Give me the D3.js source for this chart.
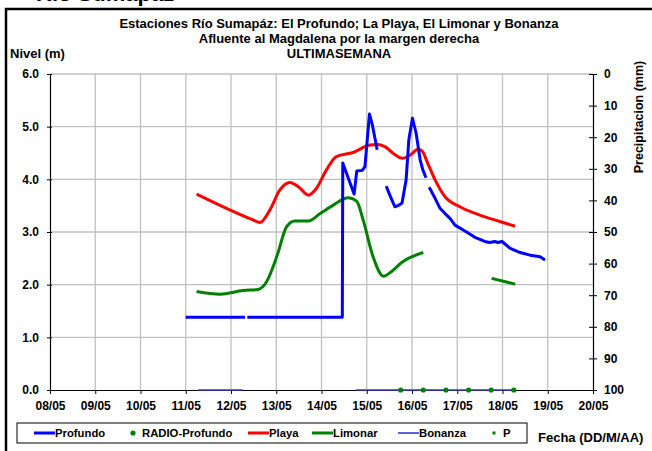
<!DOCTYPE html>
<html lang="es">
<head>
<meta charset="UTF-8">
<title>Río Sumapaz</title>
<script src="https://d3js.org/d3.v7.min.js"></script>
<style>
  body { margin: 0; background: #fff; }
  svg text { font-family: "Liberation Sans", Arial, sans-serif; font-weight: bold; fill: #000; }
</style>
</head>
<body>
<svg id="chart" width="652" height="451"></svg>
<script>
// x values are day of May (decimals = part of the day), y values are level in metres
var dayTicks = [8, 9, 10, 11, 12, 13, 14, 15, 16, 17, 18, 19, 20];
var nivelTicks = [0, 1, 2, 3, 4, 5, 6];
var precipTicks = [0, 10, 20, 30, 40, 50, 60, 70, 80, 90, 100];

// null = gap in the record
var profundo = [
    [11.0, 1.38], [12.31, 1.38], null,
    [12.36, 1.38], [14.46, 1.38], [14.47, 4.31], [14.72, 3.72], [14.78, 4.16], [14.9, 4.17],
    [14.96, 4.24], [15.06, 5.24], [15.12, 5.05], [15.23, 4.56], null,
    [15.43, 3.87], [15.51, 3.7], [15.62, 3.48], [15.69, 3.5], [15.78, 3.55], [15.87, 3.99],
    [15.93, 4.75], [16.01, 5.16], [16.09, 4.88], [16.18, 4.37], [16.24, 4.18], [16.31, 4.03], null,
    [16.38, 3.85], [16.51, 3.64], [16.62, 3.45], [16.73, 3.35], [16.84, 3.26], [16.95, 3.13],
    [17.17, 3.02], [17.39, 2.9], [17.61, 2.82], [17.72, 2.8], [17.83, 2.82], [17.9, 2.8],
    [17.99, 2.82], [18.17, 2.69], [18.39, 2.61], [18.61, 2.56], [18.83, 2.53], [18.94, 2.47]
];

var playa = [
    [11.24, 3.72], [12.46, 3.24], [12.64, 3.18], [12.86, 3.42], [13.08, 3.8], [13.3, 3.94],
    [13.49, 3.86], [13.71, 3.7], [13.89, 3.83], [14.11, 4.18], [14.33, 4.43], [14.7, 4.51],
    [15.07, 4.65], [15.23, 4.66], [15.4, 4.62], [15.62, 4.47], [15.78, 4.4], [15.96, 4.46],
    [16.13, 4.57], [16.22, 4.54], [16.35, 4.3], [16.51, 3.99], [16.73, 3.67], [17.06, 3.48],
    [17.5, 3.32], [17.94, 3.2], [18.28, 3.11]
];

var limonar = [
    [11.24, 1.87], [11.76, 1.82], [12.27, 1.89], [12.6, 1.91], [12.79, 2.06], [13.01, 2.53],
    [13.23, 3.1], [13.41, 3.21], [13.71, 3.21], [13.97, 3.35], [14.26, 3.51], [14.59, 3.65],
    [14.78, 3.58], [14.92, 3.23], [15.14, 2.53], [15.37, 2.16], [15.55, 2.25], [15.77, 2.42],
    [16.25, 2.61], null,
    [17.76, 2.12], [18.28, 2.01]
];

var bonanza = [
    [11.27, 0], [12.26, 0], null,
    [14.76, 0], [18.3, 0]
];

var radioProfundo = [
    [15.75, 0], [16.25, 0], [16.75, 0], [17.25, 0], [17.75, 0], [18.25, 0]
];

var precipitacion = [];   // P: no rain recorded this week

var titleLines = [
    "Estaciones Río Sumapáz: El Profundo; La Playa, El Limonar y Bonanza",
    "Afluente al Magdalena por la margen derecha",
    "ULTIMASEMANA"
];

var svg = d3.select("#chart");

var x = d3.scaleLinear().domain([8, 20]).range([50, 593]);
var y = d3.scaleLinear().domain([0, 6]).range([390, 74]);
var y2 = d3.scaleLinear().domain([0, 100]).range([74, 390]);

// page heading, cut off at the top of the capture
svg.append("text")
    .attr("x", 36).attr("y", 1)
    .style("font-size", "22px")
    .text("Río Sumapaz");

// frame of the chart
svg.append("rect")
    .attr("x", 6).attr("y", 9)
    .attr("width", 700).attr("height", 500)
    .attr("fill", "none")
    .attr("stroke", "#000")
    .attr("stroke-width", 2.5);

// grid
svg.append("g").selectAll("line")
    .data(dayTicks.slice(1, -1))
    .enter().append("line")
    .attr("x1", function (d) { return x(d); })
    .attr("x2", function (d) { return x(d); })
    .attr("y1", y(0)).attr("y2", y(6))
    .attr("stroke", "#c0c0c0").attr("stroke-width", 1.3);

svg.append("g").selectAll("line")
    .data(nivelTicks.slice(1))
    .enter().append("line")
    .attr("x1", x(8)).attr("x2", x(20))
    .attr("y1", function (d) { return y(d); })
    .attr("y2", function (d) { return y(d); })
    .attr("stroke", "#c0c0c0").attr("stroke-width", 1.3);

// axes
var fmtDay = function (d) { return d3.format("02d")(d) + "/05"; };

var gx = svg.append("g")
    .attr("transform", "translate(0," + y(0) + ")")
    .call(d3.axisBottom(x).tickValues(dayTicks).tickFormat(fmtDay).tickSize(4).tickPadding(7));

var gy = svg.append("g")
    .attr("transform", "translate(" + x(8) + ",0)")
    .call(d3.axisLeft(y).tickValues(nivelTicks).tickFormat(d3.format(".1f")).tickSize(3).tickPadding(8));

var gy2 = svg.append("g")
    .attr("transform", "translate(" + x(20) + ",0)")
    .call(d3.axisRight(y2).tickValues(precipTicks).tickSize(4).tickPadding(7));

[gx, gy, gy2].forEach(function (g) {
    g.select(".domain").attr("stroke", "#000").attr("stroke-width", 1.2);
    g.selectAll(".tick line").attr("stroke", "#000");
    g.selectAll(".tick text")
        .style("font-size", "12px")
        .style("font-family", '"Liberation Sans", Arial, sans-serif')
        .style("font-weight", "bold");
});
gy.select(".domain").attr("d", "M0.5," + y(6) + "V" + y(0));
gy2.select(".domain").attr("d", "M0.5," + y2(0) + "V" + y2(100));
gx.select(".domain").attr("d", "M" + x(8) + ",0.5H" + x(20));
// ticks cross the vertical axes
gy.selectAll(".tick line").attr("x2", 2).attr("x1", -3);
gy2.selectAll(".tick line").attr("x1", -4).attr("x2", 4);

// series
var line = d3.line()
    .defined(function (d) { return d !== null; })
    .x(function (d) { return x(d[0]); })
    .y(function (d) { return y(d[1]); });

var smooth = d3.line()
    .defined(function (d) { return d !== null; })
    .curve(d3.curveMonotoneX)
    .x(function (d) { return x(d[0]); })
    .y(function (d) { return y(d[1]); });

svg.append("path").datum(bonanza)
    .attr("d", line).attr("fill", "none")
    .attr("stroke", "#3a3ac8").attr("stroke-width", 1.6);

svg.append("path").datum(limonar)
    .attr("d", smooth).attr("fill", "none")
    .attr("stroke", "#008000").attr("stroke-width", 3).attr("stroke-linejoin", "round");

svg.append("path").datum(playa)
    .attr("d", smooth).attr("fill", "none")
    .attr("stroke", "#ff0000").attr("stroke-width", 3).attr("stroke-linejoin", "round");

svg.append("path").datum(profundo)
    .attr("d", line).attr("fill", "none")
    .attr("stroke", "#0000ff").attr("stroke-width", 3).attr("stroke-linejoin", "round");

svg.append("g").selectAll("circle")
    .data(radioProfundo)
    .enter().append("circle")
    .attr("cx", function (d) { return x(d[0]); })
    .attr("cy", function (d) { return y(d[1]); })
    .attr("r", 2.6)
    .attr("fill", "#008000");

svg.append("g").selectAll("rect")
    .data(precipitacion)
    .enter().append("rect")
    .attr("x", function (d) { return x(d[0]) - 1.5; })
    .attr("y", function (d) { return y2(d[1]) - 1.5; })
    .attr("width", 3).attr("height", 3)
    .attr("fill", "#008000");

// titles
svg.append("g").selectAll("text")
    .data(titleLines)
    .enter().append("text")
    .attr("x", 339)
    .attr("y", function (d, i) { return 27.5 + i * 15; })
    .attr("text-anchor", "middle")
    .style("font-size", "13px")
    .text(function (d) { return d; });

svg.append("text").attr("x", 10).attr("y", 57.5)
    .style("font-size", "13px").text("Nivel (m)");

svg.append("text")
    .attr("transform", "translate(643,117) rotate(-90)")
    .attr("text-anchor", "middle")
    .style("font-size", "12.5px")
    .text("Precipitacion (mm)");

svg.append("text").attr("x", 538).attr("y", 441.5)
    .style("font-size", "13px").text("Fecha (DD/M/AA)");

// legend
var legend = svg.append("g");
legend.append("rect")
    .attr("x", 17).attr("y", 423).attr("width", 510).attr("height", 20)
    .attr("fill", "#fff").attr("stroke", "#000").attr("stroke-width", 1);

var legendItems = [
    { name: "Profundo", kind: "line", color: "#0000ff", w: 3, at: 34 },
    { name: "RADIO-Profundo", kind: "dot", color: "#008000", at: 133 },
    { name: "Playa", kind: "line", color: "#ff0000", w: 3, at: 248 },
    { name: "Limonar", kind: "line", color: "#008000", w: 3, at: 312 },
    { name: "Bonanza", kind: "line", color: "#3a3ac8", w: 1.6, at: 398 },
    { name: "P", kind: "square", color: "#008000", at: 494 }
];

legendItems.forEach(function (it) {
    var ly = 433;
    var tx;
    if (it.kind === "line") {
        legend.append("line")
            .attr("x1", it.at).attr("x2", it.at + 21)
            .attr("y1", ly).attr("y2", ly)
            .attr("stroke", it.color).attr("stroke-width", it.w);
        tx = it.at + 21;
    } else if (it.kind === "dot") {
        legend.append("circle").attr("cx", it.at).attr("cy", ly).attr("r", 2.6).attr("fill", it.color);
        tx = it.at + 9;
    } else {
        legend.append("rect").attr("x", it.at - 1.5).attr("y", ly - 1.5)
            .attr("width", 3).attr("height", 3).attr("fill", it.color);
        tx = it.at + 9;
    }
    legend.append("text").attr("x", tx).attr("y", ly + 4)
        .style("font-size", "11.3px").text(it.name);
});
</script>
</body>
</html>
